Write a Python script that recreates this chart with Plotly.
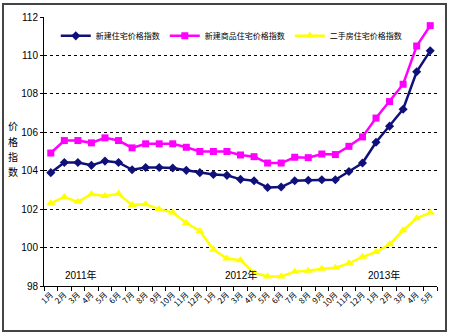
import plotly.graph_objects as go

months = ["1月", "2月", "3月", "4月", "5月", "6月", "7月", "8月", "9月", "10月", "11月", "12月",
          "1月", "2月", "3月", "4月", "5月", "6月", "7月", "8月", "9月", "10月", "11月", "12月",
          "1月", "2月", "3月", "4月", "5月"]

new_housing = [103.9, 104.43, 104.43, 104.28, 104.5, 104.43, 104.05, 104.17, 104.17, 104.14,
               104.02, 103.9, 103.8, 103.76, 103.55, 103.48, 103.13, 103.15, 103.48, 103.5,
               103.53, 103.53, 103.96, 104.4, 105.48, 106.32, 107.2, 109.15, 110.24]

new_commodity = [104.92, 105.57, 105.57, 105.45, 105.71, 105.57, 105.19, 105.4, 105.4, 105.4,
                 105.22, 105.0, 105.0, 105.0, 104.82, 104.73, 104.4, 104.4, 104.7, 104.68,
                 104.87, 104.84, 105.27, 105.76, 106.74, 107.6, 108.5, 110.49, 111.55]

second_hand = [102.31, 102.63, 102.38, 102.78, 102.69, 102.8, 102.21, 102.26, 102.0, 101.83,
               101.28, 100.86, 99.9, 99.43, 99.34, 98.68, 98.5, 98.5, 98.74, 98.8,
               98.9, 98.95, 99.18, 99.52, 99.77, 100.17, 100.9, 101.52, 101.82]

series_names = ["新建住宅价格指数", "新建商品住宅价格指数", "二手房住宅价格指数"]
year_labels = ["2011年", "2012年", "2013年"]
year_pos = [2.2, 14.0, 24.6]
y_title = "价格指数"

x = list(range(len(months)))
cjk = "Noto Sans CJK SC"
num_font = "Liberation Sans Narrow, Liberation Sans, Noto Sans CJK SC"

fig = go.Figure()
fig.add_trace(go.Scatter(x=x, y=new_housing, name=series_names[0], mode="lines+markers",
                         line=dict(color="#10107a", width=2.5),
                         marker=dict(symbol="diamond", size=7, color="#10107a")))
fig.add_trace(go.Scatter(x=x, y=new_commodity, name=series_names[1], mode="lines+markers",
                         line=dict(color="#ff00ff", width=2.5),
                         marker=dict(symbol="square", size=7, color="#ff00ff")))
fig.add_trace(go.Scatter(x=x, y=second_hand, name=series_names[2], mode="lines+markers",
                         line=dict(color="#ffff00", width=2.5),
                         marker=dict(symbol="triangle-up", size=8, color="#ffff00")))

annotations = []
for lab, pos in zip(year_labels, year_pos):
    annotations.append(dict(x=pos, y=98.56, xref="x", yref="y", text=lab, showarrow=False,
                            font=dict(family=num_font, size=10, color="#000")))
for k, ch in enumerate(y_title):
    annotations.append(dict(x=-0.08, y=0.595 - k * 0.056, xref="paper", yref="paper",
                            xanchor="center", yanchor="middle", text=ch, showarrow=False,
                            font=dict(family=cjk, size=10, color="#000")))

fig.update_layout(
    width=450, height=336,
    margin=dict(l=44, r=13, t=17, b=50),
    paper_bgcolor="white", plot_bgcolor="white",
    showlegend=True,
    legend=dict(orientation="h", x=0.03, y=0.93, xanchor="left", yanchor="middle",
                bgcolor="rgba(0,0,0,0)", font=dict(family=cjk, size=8, color="#000"),
                itemwidth=30, tracegroupgap=0),
    annotations=annotations,
    shapes=[dict(type="rect", xref="paper", yref="paper",
                 x0=-0.1043, x1=1.0229, y0=-0.1673, y1=1.0483,
                 line=dict(color="#444", width=2))],
)

fig.update_xaxes(range=[-0.5, 28.5], tickvals=x, ticktext=months, tickangle=-45,
                 ticks="", showgrid=False, showline=True, linecolor="#000", linewidth=1,
                 tickfont=dict(family=cjk, size=8, color="#000"), zeroline=False,
                 minor=dict(tickvals=[i - 0.5 for i in range(len(months) + 1)],
                            ticks="outside", ticklen=4, tickcolor="#000", showgrid=False))
fig.update_yaxes(range=[98, 112], dtick=2, showgrid=True, gridcolor="#000", griddash="dot",
                 gridwidth=1, showline=True, linecolor="#000", linewidth=1, ticks="outside",
                 ticklen=3, tickcolor="#000", zeroline=False,
                 tickfont=dict(family=num_font, size=10, color="#000"))

fig.write_html("out.html")
